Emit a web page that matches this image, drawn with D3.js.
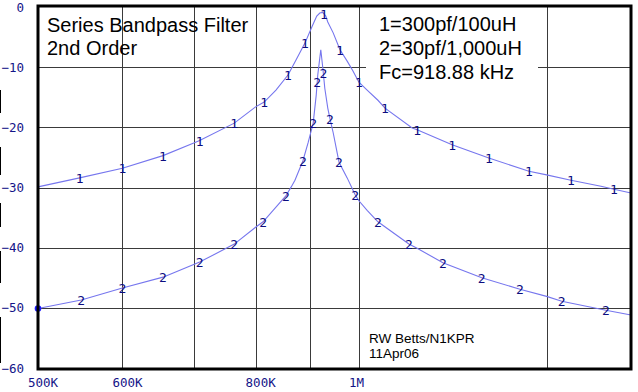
<!DOCTYPE html>
<html><head><meta charset="utf-8">
<script src="https://cdn.jsdelivr.net/npm/d3@7"></script>
<style>html,body{margin:0;padding:0;background:#fff;}svg{display:block;}</style>
</head><body>
<svg id="chart" width="638" height="392"></svg>
<script>
// ---- data ----
const freq1 = [500, 547, 600, 655, 700, 709, 764, 800, 815, 836, 858, 873, 890, 904, 913, 919, 925, 931, 935, 946, 960, 975, 987, 1000, 1018, 1042, 1058, 1122, 1134, 1223, 1324, 1444, 1500, 1581, 1687, 1735, 1800];
const db1   = [-29.9, -28.4, -26.8, -24.7, -22.6, -22.2, -19.3, -16.6, -15.8, -13.8, -11.3, -8.8, -6.0, -3.2, -1.5, -1.0, -0.9, -1.5, -2.5, -4.3, -7.1, -9.0, -10.6, -12.5, -13.8, -15.5, -16.8, -20.1, -20.4, -22.9, -25.1, -27.3, -27.9, -28.8, -29.8, -30.3, -30.9];
const freq2 = [500, 549, 600, 655, 709, 764, 800, 813, 854, 864, 871, 886, 896, 906, 912, 915, 919, 921, 925, 929, 935, 939.5, 946, 958, 975, 992, 1000, 1018, 1042, 1114, 1134, 1199, 1304, 1416, 1500, 1550, 1705, 1800];
const db2   = [-50.1, -48.7, -46.7, -44.9, -42.4, -39.4, -36.6, -35.7, -31.4, -29.9, -28.8, -25.6, -22.6, -19.3, -14.6, -11.3, -8.5, -7.1, -10.1, -13.5, -16.8, -18.6, -20.9, -25.8, -28.4, -31.2, -32.2, -33.8, -35.7, -39.4, -40.1, -42.5, -45.0, -46.9, -48.1, -48.9, -50.4, -51.2];
const label1Freqs = [547, 600, 655, 709, 764, 815, 858, 890, 927, 960, 1000, 1058, 1134, 1223, 1324, 1444, 1581, 1735];
const label2Freqs = [549, 600, 655, 709, 764, 813, 854, 886, 906, 914, 926, 939.5, 958, 992, 1042, 1114, 1199, 1304, 1416, 1550, 1705];
const yTicks = [0, -10, -20, -30, -40, -50, -60];
const xTickValues = [500, 600, 800, 1000];
const xTickLabels = ["500K", "600K", "800K", "1M"];
const xGridValues = [600, 700, 800, 900, 1000, 1500];
const titleLines = ["Series Bandpass Filter", "2nd Order"];
const legendLines = ["1=300pf/100uH", "2=30pf/1,000uH", "Fc=918.88 kHz"];
const creditLines = ["RW Betts/N1KPR", "11Apr06"];

// ---- drawing ----
const svg = d3.select("#chart");
const L = 38, R = 631, T = 7, B = 368;
const x = d3.scaleLog().domain([500, 1800]).range([L, R]);
const y = d3.scaleLinear().domain([0, -60]).range([T, B]);

svg.append("rect").attr("width", 638).attr("height", 392).attr("fill", "#fff");

// grid
const grid = svg.append("g").attr("stroke", "#3a3a3a").attr("stroke-width", 1);
grid.selectAll("line.v").data(xGridValues).enter().append("line")
  .attr("x1", d => Math.round(x(d)) + 0.5).attr("x2", d => Math.round(x(d)) + 0.5)
  .attr("y1", T).attr("y2", B);
grid.selectAll("line.h").data(yTicks.slice(1, -1)).enter().append("line")
  .attr("x1", L).attr("x2", R)
  .attr("y1", d => Math.round(y(d)) + 0.5).attr("y2", d => Math.round(y(d)) + 0.5);

// legend box background (white, hides grid)
svg.append("rect").attr("x", 366).attr("y", 9).attr("width", 172).attr("height", 76).attr("fill", "#fff");

// curves
const line = d3.line().x(d => x(d[0])).y(d => y(d[1]));
const s1 = freq1.map((f, i) => [f, db1[i]]);
const s2 = freq2.map((f, i) => [f, db2[i]]);
[s1, s2].forEach(s => {
  svg.append("path").datum(s).attr("d", line)
    .attr("fill", "none").attr("stroke", "#7676ee").attr("stroke-width", 1.1);
});

function interp(fs, ds, f) {
  for (let i = 0; i < fs.length - 1; i++) {
    if (f >= fs[i] && f <= fs[i + 1]) {
      const t = (Math.log(f) - Math.log(fs[i])) / (Math.log(fs[i + 1]) - Math.log(fs[i]));
      return ds[i] + t * (ds[i + 1] - ds[i]);
    }
  }
  return ds[ds.length - 1];
}
function labels(freqs, fs, ds, txt) {
  svg.append("g").selectAll("text").data(freqs).enter().append("text")
    .attr("x", d => x(d)).attr("y", d => y(interp(fs, ds, d)) + 5)
    .attr("text-anchor", "middle")
    .attr("font-family", "DejaVu Sans Mono").attr("font-size", 13)
    .attr("fill", "#0c0c80").text(txt);
}
labels(label1Freqs, freq1, db1, "1");
labels(label2Freqs, freq2, db2, "2");

// start marker on curve 2
svg.append("circle").attr("cx", x(freq2[0])).attr("cy", y(db2[0])).attr("r", 3.3).attr("fill", "#1a1aff");

// frame
svg.append("rect").attr("x", L).attr("y", 6).attr("width", R - L).attr("height", 363)
  .attr("fill", "none").attr("stroke", "#000").attr("stroke-width", 3);

// y tick labels
svg.append("g").selectAll("text").data(yTicks).enter().append("text")
  .attr("x", 24).attr("y", d => y(d) + 4.5).attr("text-anchor", "end")
  .attr("font-family", "DejaVu Sans Mono").attr("font-size", 12.5).attr("fill", "#141488")
  .text(d => d === 0 ? "0" : "\u2212" + Math.abs(d));

// left edge segments
const segs = [[90, 113], [147, 175], [203, 227], [251, 283], [317, 363]];
svg.append("g").selectAll("line").data(segs).enter().append("line")
  .attr("x1", 0.5).attr("x2", 0.5).attr("y1", d => d[0]).attr("y2", d => d[1])
  .attr("stroke", "#000").attr("stroke-width", 1);

// x tick labels
svg.append("g").selectAll("text").data(xTickValues).enter().append("text")
  .attr("x", d => x(d) - 10).attr("y", 387).attr("text-anchor", "start")
  .attr("font-family", "DejaVu Sans Mono").attr("font-size", 12.5).attr("fill", "#141488")
  .text((d, i) => xTickLabels[i]);

// texts
const tf = "Liberation Sans, Arial, sans-serif";
svg.append("g").selectAll("text").data(titleLines).enter().append("text")
  .attr("x", 47).attr("y", (d, i) => 32 + i * 23)
  .attr("font-family", tf).attr("font-size", 20).attr("fill", "#000").text(d => d);
svg.append("g").selectAll("text").data(legendLines).enter().append("text")
  .attr("x", 379).attr("y", (d, i) => 31 + i * 24)
  .attr("font-family", tf).attr("font-size", 20).attr("fill", "#000").text(d => d);
svg.append("g").selectAll("text").data(creditLines).enter().append("text")
  .attr("x", 369).attr("y", (d, i) => 343 + i * 15)
  .attr("font-family", tf).attr("font-size", 13.5).attr("fill", "#000").text(d => d);
</script>
</body></html>
